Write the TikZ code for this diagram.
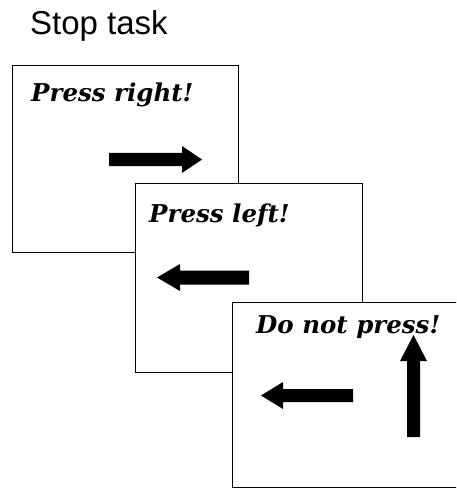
\documentclass[tikz,border=0pt]{standalone}
\usepackage{fontspec}
\setmainfont{Liberation Sans}
\newfontfamily\cuefont{DejaVu Serif}

\tikzset{
	screen/.style={draw=black, fill=white, line width=1.4pt, inner sep=0pt, anchor=north west},
	cue/.style={anchor=base west, inner sep=0pt, font=\cuefont\bfseries\itshape\fontsize{24.5}{28}\selectfont},
}

\begin{document}
\begin{tikzpicture}[x=1pt, y=-1pt]
			\clip (0, 0) rectangle (456, 489);
			\fill[white]	(0, 0) rectangle (456, 489);

			\node[anchor=base west, inner sep=0pt, font=\fontsize{33}{38}\selectfont] (title) at (30, 35) {Stop task};

			% three screens, each one lying over the last
			\node[screen, minimum width=226pt, minimum height=187pt] (right) at (12, 65) {};
			\node[cue] (rightcue) at (31, 102) {Press right!};
			\fill[black]	(109, 153) -- (182, 153) -- (182, 146) -- (202, 159.5)
							-- (182, 173) -- (182, 166) -- (109, 166) -- cycle;

			\node[screen, minimum width=227pt, minimum height=189pt] (left) at (135, 183) {};
			\node[cue] (leftcue) at (149, 222) {Press left!};
			\fill[black]	(249, 270.5) -- (180, 270.5) -- (180, 264) -- (157, 277.5)
							-- (180, 291) -- (180, 284.5) -- (249, 284.5) -- cycle;

			\node[screen, minimum width=227pt, minimum height=185pt] (stop) at (232, 302) {};
			\node[cue] (stopcue) at (256, 333) {Do not press!};
			\fill[black]	(353, 389) -- (283, 389) -- (283, 382) -- (261, 395.5)
							-- (283, 409) -- (283, 402) -- (353, 402) -- cycle;
			\fill[black]	(407, 437) -- (407, 361) -- (400, 361) -- (413.5, 335)
							-- (427, 361) -- (420, 361) -- (420, 437) -- cycle;
		\end{tikzpicture}
\end{document}
